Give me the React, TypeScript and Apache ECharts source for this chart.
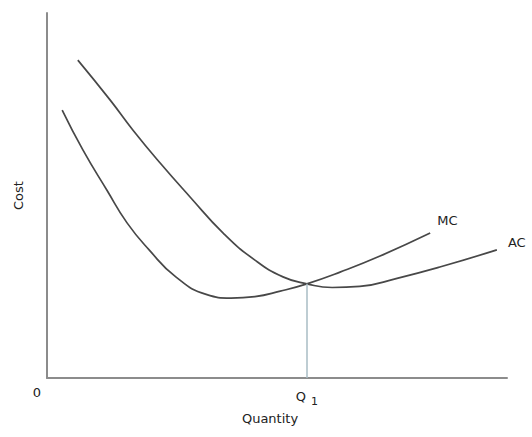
import React, { useEffect, useRef } from "react";
import * as echarts from "echarts";

const mcX = [3.3, 7.8, 13.0, 17.4, 22.2, 28.0, 34.6, 40.0, 45.2, 50.7, 56.5, 63.7, 72.4, 83.3];
const mcY = [73.4, 62.5, 51.5, 42.5, 35.1, 27.7, 22.9, 21.9, 22.3, 23.8, 25.8, 29.0, 33.4, 39.7];
const acX = [6.7, 13.7, 18.7, 24.6, 31.1, 38.3, 45.2, 51.3, 56.5, 62.0, 68.0, 76.1, 85.4, 97.8];
const acY = [87.1, 76.2, 67.9, 58.9, 49.6, 39.7, 32.3, 27.7, 25.8, 24.8, 25.1, 27.3, 30.4, 35.1];
const q1 = 56.5;
const q1Cost = 25.8;
const xTickValues = [0, q1];

const FONT = "DejaVu Sans";
const TEXT = "#222";

export default function App() {
  const ref = useRef<HTMLDivElement>(null);
  useEffect(() => {
    document.body.style.margin = "0";
    const chart = echarts.init(ref.current!, null, { renderer: "svg" });
    const curveStyle = { color: "#484848", width: 1.7 };
    chart.setOption({
      animation: false,
      backgroundColor: "#ffffff",
      grid: { left: 47, right: 25, top: 13, bottom: 59 },
      xAxis: {
        type: "value",
        min: 0,
        max: 100,
        name: "Quantity",
        nameLocation: "middle",
        nameGap: 34,
        nameTextStyle: { fontFamily: FONT, fontSize: 13, color: TEXT, padding: [0, 14, 0, 0] },
        axisLine: { show: true, lineStyle: { color: "#8c8c8c", width: 2 } },
        axisTick: { show: false },
        splitLine: { show: false },
        axisLabel: {
          customValues: xTickValues,
          margin: 8,
          formatter: (v: number) => (v === 0 ? "{z|0}" : "{q|Q}{s|1}"),
          rich: {
            z: { fontFamily: FONT, fontSize: 13, color: TEXT, padding: [0, 20, 0, 0] },
            q: { fontFamily: FONT, fontSize: 13, color: TEXT },
            s: { fontFamily: FONT, fontSize: 11, color: TEXT, padding: [10, 0, 0, 5] },
          },
        },
      },
      yAxis: {
        type: "value",
        min: 0,
        max: 100,
        name: "Cost",
        nameLocation: "middle",
        nameGap: 22,
        nameRotate: 90,
        nameTextStyle: { fontFamily: FONT, fontSize: 13, color: TEXT },
        axisLine: { show: true, lineStyle: { color: "#8c8c8c", width: 2 } },
        axisTick: { show: false },
        axisLabel: { show: false },
        splitLine: { show: false },
      },
      series: [
        {
          type: "line",
          name: "MC",
          data: mcX.map((x, i) => [x, mcY[i]]),
          smooth: 0.5,
          showSymbol: false,
          lineStyle: curveStyle,
          endLabel: {
            show: true,
            formatter: "MC",
            distance: 0,
            offset: [7, -13],
            fontFamily: FONT,
            fontSize: 13,
            color: TEXT,
          },
          markLine: {
            silent: true,
            symbol: "none",
            label: { show: false },
            lineStyle: { color: "#a9bcc4", width: 1.5, type: "solid" },
            data: [[{ coord: [q1, 0] }, { coord: [q1, q1Cost] }]],
          },
        },
        {
          type: "line",
          name: "AC",
          data: acX.map((x, i) => [x, acY[i]]),
          smooth: 0.5,
          showSymbol: false,
          lineStyle: curveStyle,
          endLabel: {
            show: true,
            formatter: "AC",
            distance: 0,
            offset: [11, -7],
            fontFamily: FONT,
            fontSize: 13,
            color: TEXT,
          },
        },
      ],
    });
    return () => chart.dispose();
  }, []);
  return <div ref={ref} style={{ width: 532, height: 437 }} />;
}
